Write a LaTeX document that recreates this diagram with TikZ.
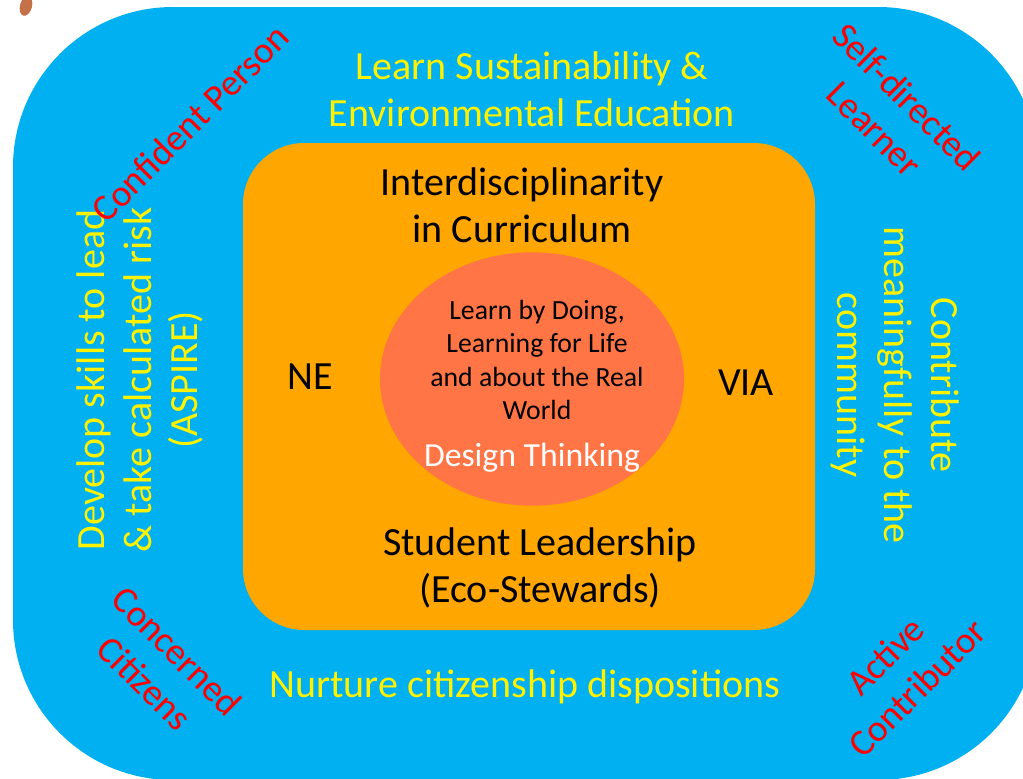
\documentclass[tikz,border=0pt]{standalone}
\usepackage{fontspec}
\setmainfont{Carlito}
\usetikzlibrary{shapes.geometric}
\definecolor{skyblue}{RGB}{0,176,240}
\definecolor{amber}{RGB}{255,166,0}
\definecolor{coral}{RGB}{255,117,70}
\definecolor{rust}{RGB}{196,112,72}

\begin{document}
\begin{tikzpicture}[
        x=0.75pt,y=-0.75pt,
        big/.style={font=\fontsize{30}{35}\selectfont, align=center, inner sep=0pt},
        trait/.style={big, font=\fontsize{28}{34}\selectfont, text=red},
        goal/.style={big, text=yellow},
        pillar/.style={big, text=black},
        ]
        \useasboundingbox (0,0) rectangle (1023,778);
        \fill[rust, rotate around={-15:(26,6)}] (26,6) ellipse (6 and 10);
        \fill[skyblue, rounded corners=120pt] (13,7) rectangle (1038,780);
        \fill[amber, rounded corners=46pt] (243,143) rectangle (815,630);
        \node[ellipse, fill=coral, minimum width=228pt, minimum height=190pt, inner sep=0pt] (core) at (532,379) {};

        \node[pillar] (top_pillar) at (522,205) {Interdisciplinarity\\in Curriculum};
        \node[pillar] (bottom_pillar) at (540,568) {Student Leadership\\(Eco-Stewards)};
        \node[pillar] (ne) at (310,377) {NE};
        \node[pillar] (via) at (746,383) {VIA};
        \node[align=center, font=\fontsize{20.8}{25}\selectfont, inner sep=0pt] (core_text) at (537,360)
            {Learn by Doing,\\Learning for Life\\and about the Real\\World};
        \node[text=white, font=\fontsize{25.3}{30}\selectfont, inner sep=0pt] (design) at (532,458) {Design Thinking};

        \node[goal] (sustain) at (532,89) {Learn Sustainability \&\\Environmental Education};
        \node[goal] (nurture) at (525,687) {Nurture citizenship dispositions};
        \node[goal, rotate=90] (aspire) at (140,380) {Develop skills to lead\\\& take calculated risk\\(ASPIRE)};
        \node[goal, rotate=-90] (contribute) at (895,385) {Contribute\\meaningfully to the\\community};

        \node[trait, rotate=45] (confident) at (190,123) {Confident Person};
        \node[trait, rotate=-45] (self_directed) at (891,113) {Self-directed\\Learner};
        \node[trait, rotate=-45] (concerned) at (161,667) {Concerned\\Citizens};
        \node[trait, rotate=45] (active) at (901,672) {Active\\Contributor};
      \end{tikzpicture}
\end{document}
